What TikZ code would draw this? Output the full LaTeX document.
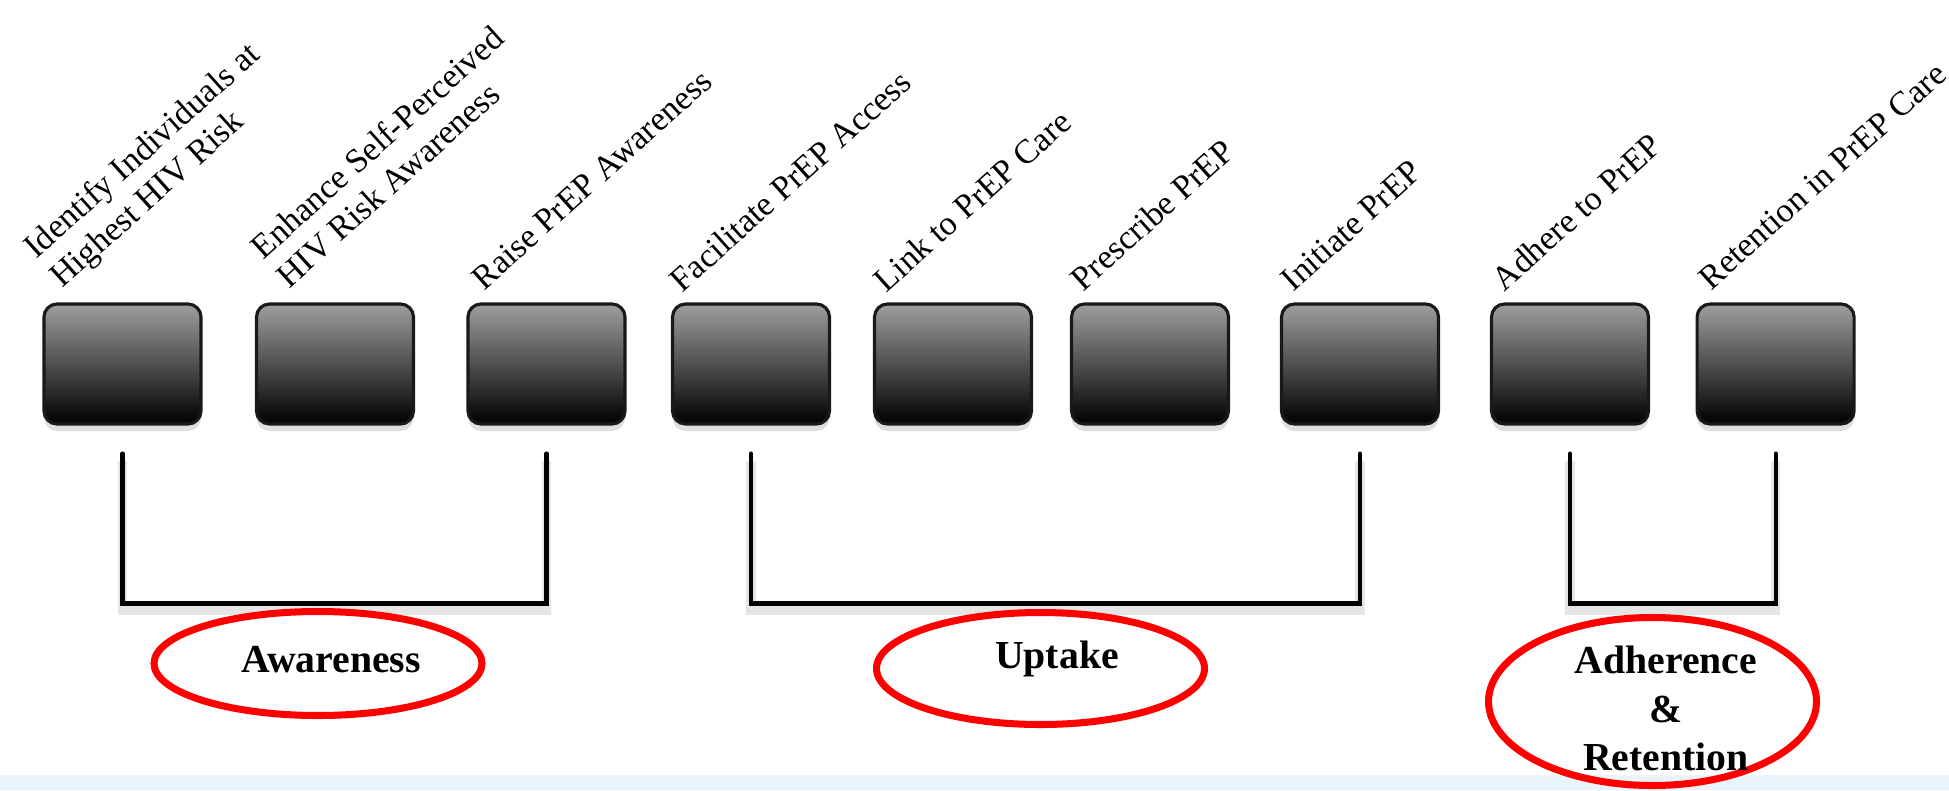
\documentclass[tikz,border=0pt]{standalone}
\usepackage{fontspec}
\setmainfont{Liberation Serif}
\usepackage{xcolor}
\usepackage{tikz}
\usetikzlibrary{shapes,positioning,shadows,calc}

\definecolor{bandblue}{RGB}{234,244,251}

\begin{document}
\begin{tikzpicture}[
    % Gradient boxes of the PrEP cascade
    stagebox/.style={
        rectangle,
        draw=black!90,
        line width=0.9pt,
        top color=black!38,
        bottom color=black,
        minimum width=1.57cm,
        minimum height=1.2cm,
        rounded corners=0.13cm,
        drop shadow={opacity=0.25, shadow xshift=0pt, shadow yshift=-2pt}
    },
    steptext/.style={
        anchor=south west,
        rotate=42,
        inner sep=0pt,
        align=left,
        font=\fontsize{9.7}{11.1}\selectfont
    },
    bracket/.style={
        line width=1.2pt, black, line cap=round,
        preaction={draw=black!10, line width=2.6pt, transform canvas={yshift=-2pt}}
    },
    groupring/.style={ellipse, draw=red, line width=2pt, inner sep=0pt, minimum width=3.28cm},
    grouptext/.style={font=\fontsize{11.3}{13.9}\selectfont\bfseries, align=center, inner sep=0pt}
]

\useasboundingbox (0,0) rectangle (19.49,7.90);

% Light band along the bottom edge
\fill[bandblue] (0,0) rectangle (19.49,0.15);

% Cascade steps
\foreach \n/\x in {identify/1.225, enhance/3.35, raise/5.465, facilitate/7.51, link/9.53,
                   prescribe/11.50, initiate/13.60, adhere/15.70, retention/17.756} {
    \node[stagebox] (\n) at (\x, 4.26) {};
}

% Step labels, slanted above each box
\node[steptext] (identifyText) at ([xshift=0.25cm, yshift=0.07cm]identify.north west) {Identify Individuals at\\Highest HIV Risk};
\node[steptext] (enhanceText) at ([xshift=0.35cm, yshift=0.12cm]enhance.north west) {Enhance Self-Perceived\\HIV Risk Awareness};
\node[steptext] (raiseText) at ([xshift=0.18cm, yshift=0.10cm]raise.north west) {Raise PrEP Awareness};
\node[steptext] (facilitateText) at ([xshift=0.12cm, yshift=0.08cm]facilitate.north west) {Facilitate PrEP Access};
\node[steptext] (linkText) at ([xshift=0.14cm, yshift=0.08cm]link.north west) {Link to PrEP Care};
\node[steptext] (prescribeText) at ([xshift=0.14cm, yshift=0.09cm]prescribe.north west) {Prescribe PrEP};
\node[steptext] (initiateText) at ([xshift=0.14cm, yshift=0.09cm]initiate.north west) {Initiate PrEP};
\node[steptext] (adhereText) at ([xshift=0.15cm, yshift=0.09cm]adhere.north west) {Adhere to PrEP};
\node[steptext] (retentionText) at ([xshift=0.16cm, yshift=0.10cm]retention.north west) {Retention in PrEP Care};

% Brackets grouping the steps
\draw[bracket] ([yshift=-0.28cm]identify.south) |- ([yshift=-1.78cm]raise.south) -- ([yshift=-0.28cm]raise.south);
\draw[bracket] ([yshift=-0.28cm]facilitate.south) |- ([yshift=-1.78cm]initiate.south) -- ([yshift=-0.28cm]initiate.south);
\draw[bracket] ([yshift=-0.28cm]adhere.south) |- ([yshift=-1.78cm]retention.south) -- ([yshift=-0.28cm]retention.south);

% Group names in red rings
\node[groupring, minimum height=1.04cm] (awarenessRing) at (3.18, 1.265) {};
\node[grouptext, anchor=base] (awarenessText) at (3.31, 1.18) {Awareness};

\node[groupring, minimum height=1.12cm] (uptakeRing) at (10.405, 1.215) {};
\node[grouptext, anchor=base] (uptakeText) at (10.57, 1.22) {Uptake};

\node[groupring, minimum height=1.68cm] (adherenceRing) at (16.525, 0.885) {};
\node[grouptext, anchor=north] (adherenceText) at (16.66, 1.45) {Adherence\\\&\\Retention};

\end{tikzpicture}
\end{document}
